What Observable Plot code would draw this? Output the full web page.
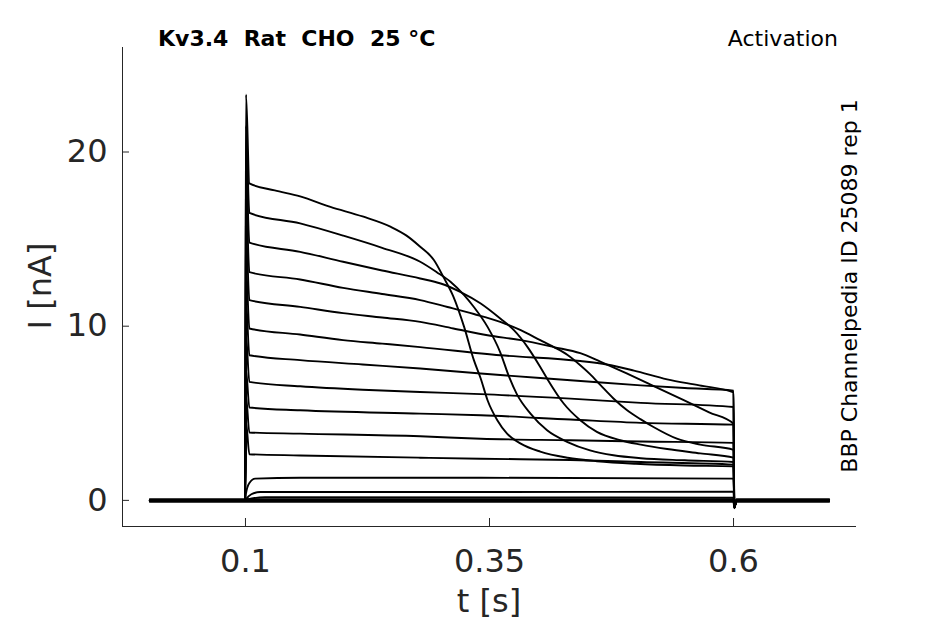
<!DOCTYPE html>
<html><head><meta charset="utf-8">
<script src="https://cdn.jsdelivr.net/npm/d3@7"></script>
<script src="https://cdn.jsdelivr.net/npm/@observablehq/plot@0.6"></script>
<style>html,body{margin:0;padding:0;background:#fff;}</style>
</head><body><div id="chart"></div>
<script>
// ---- data ----
const xDomain = [-0.026, 0.726];
const yDomain = [-1.5, 26];
const xTicks = [0.1, 0.35, 0.6];
const yTicks = [0, 10, 20];

const holdBefore = [[0.002, 0], [0.0998, 0]];
const holdAfter = [[0.6008, -0.4], [0.603, 0], [0.698, 0]];

const sweep01 = [[0.1005,23.3],[0.104,18.2],[0.13,17.8],[0.156,17.45],[0.187,16.85],[0.22,16.3],[0.249,15.7],[0.265,15.2],[0.279,14.56],[0.293,13.8],[0.303,12.8],[0.313,11.7],[0.324,9.96],[0.334,8.05],[0.341,7.0],[0.348,5.75],[0.358,4.6],[0.368,3.83],[0.382,3.26],[0.402,2.8],[0.43,2.45],[0.46,2.25],[0.5,2.1],[0.55,2.0],[0.6,1.95]];
const sweep02 = [[0.1005,21.5],[0.104,16.5],[0.156,15.9],[0.2,15.2],[0.24,14.5],[0.279,13.7],[0.296,13.1],[0.31,12.55],[0.324,11.78],[0.334,11.1],[0.348,9.96],[0.361,8.5],[0.37,7.1],[0.378,6.1],[0.392,4.98],[0.409,4.02],[0.43,3.35],[0.453,2.87],[0.477,2.59],[0.505,2.42],[0.55,2.3],[0.6,2.2]];
const sweep03 = [[0.1005,19.5],[0.104,14.8],[0.156,14.27],[0.2,13.7],[0.24,13.2],[0.279,12.74],[0.3,12.45],[0.32,11.97],[0.341,11.3],[0.361,10.44],[0.375,9.77],[0.389,8.8],[0.402,7.66],[0.41,6.9],[0.426,5.56],[0.443,4.6],[0.46,3.93],[0.484,3.45],[0.505,3.2],[0.532,2.95],[0.566,2.7],[0.6,2.45]];
const sweep04 = [[0.1005,17.5],[0.104,13.1],[0.156,12.68],[0.2,12.2],[0.24,11.85],[0.279,11.5],[0.307,11.1],[0.334,10.7],[0.361,10.25],[0.382,9.77],[0.402,9.2],[0.416,8.8],[0.43,8.35],[0.443,7.76],[0.453,7.25],[0.464,6.6],[0.477,5.85],[0.491,5.17],[0.505,4.65],[0.518,4.21],[0.542,3.54],[0.566,3.2],[0.6,2.9]];
const sweep05 = [[0.1005,15.5],[0.104,11.5],[0.156,11.11],[0.2,10.75],[0.24,10.5],[0.279,10.25],[0.313,9.87],[0.348,9.48],[0.382,9.2],[0.416,8.8],[0.443,8.45],[0.464,7.95],[0.49,7.3],[0.515,6.65],[0.549,5.75],[0.575,5.05],[0.6,4.4]];
const sweep06 = [[0.1005,13.5],[0.104,9.87],[0.156,9.52],[0.2,9.2],[0.24,9.0],[0.279,8.8],[0.361,8.33],[0.443,8.0],[0.47,7.8],[0.498,7.45],[0.532,6.95],[0.565,6.6],[0.6,6.2]];
const sweep07 = [[0.1005,11.5],[0.104,8.33],[0.156,8.05],[0.22,7.8],[0.279,7.57],[0.341,7.28],[0.433,6.9],[0.505,6.6],[0.55,6.45],[0.6,6.3]];
const sweep08 = [[0.1005,9.5],[0.104,6.8],[0.156,6.55],[0.22,6.35],[0.279,6.22],[0.341,6.1],[0.433,5.84],[0.505,5.6],[0.6,5.36]];
const sweep09 = [[0.1005,7.5],[0.104,5.33],[0.156,5.17],[0.279,4.98],[0.341,4.89],[0.433,4.64],[0.505,4.45],[0.6,4.35]];
const sweep10 = [[0.1005,6.0],[0.104,3.9],[0.156,3.83],[0.279,3.68],[0.341,3.54],[0.433,3.45],[0.505,3.38],[0.6,3.3]];
const sweep11 = [[0.1005,4.5],[0.104,2.65],[0.156,2.58],[0.279,2.45],[0.341,2.39],[0.433,2.32],[0.505,2.2],[0.6,2.05]];
const sweep12 = [[0.1005,0.4],[0.104,1.0],[0.11,1.25],[0.156,1.3],[0.341,1.3],[0.6,1.25]];
const sweep13 = [[0.101,0.1],[0.106,0.35],[0.115,0.48],[0.341,0.48],[0.6,0.5]];
const sweep14 = [[0.102,0.05],[0.12,0.18],[0.6,0.15]];
const sweep15 = [[0.6,0]];
// near-zero sweeps that thicken the baseline (full time course)
const sweep16 = [[0.002,-0.08],[0.6,-0.08],[0.6008,-0.45],[0.603,-0.08],[0.698,-0.08]];
const sweep17 = [[0.002,0.07],[0.6,0.07],[0.6008,-0.3],[0.603,0.07],[0.698,0.07]];

const pulsedSweeps = [sweep01,sweep02,sweep03,sweep04,sweep05,sweep06,sweep07,sweep08,sweep09,sweep10,sweep11,sweep12,sweep13,sweep14,sweep15];
const flatSweeps = [sweep16, sweep17];

const titleText = "Kv3.4  Rat  CHO  25 °C";
const protocolText = "Activation";
const sideText = "BBP Channelpedia ID 25089 rep 1";
const xLabel = "t [s]";
const yLabel = "I [nA]";

// ---- table ----
const rows = [];
pulsedSweeps.forEach((s, k) => {
  [...holdBefore, ...s, ...holdAfter].forEach(([t, i]) => rows.push({sweep: k, t, i}));
});
flatSweeps.forEach((s, k) => {
  s.forEach(([t, i]) => rows.push({sweep: 100 + k, t, i}));
});

const W = 945, H = 624, mL = 122, mR = 89, mT = 47, mB = 98;
const frameW = W - mL - mR, frameH = H - mT - mB;
const axisColor = "#262626";

const plot = Plot.plot({
  width: W, height: H,
  marginLeft: mL, marginRight: mR, marginTop: mT, marginBottom: mB,
  style: {fontFamily: "DejaVu Sans", fontSize: "32px", color: "#262626", background: "#fff"},
  x: {domain: xDomain},
  y: {domain: yDomain},
  marks: [
    Plot.ruleX([xDomain[0]], {stroke: axisColor, strokeWidth: 1}),
    Plot.ruleY([yDomain[0]], {stroke: axisColor, strokeWidth: 1}),
    Plot.tickX(xTicks, {x: d => d, insetTop: frameH - 8, stroke: axisColor}),
    Plot.tickY(yTicks, {y: d => d, insetRight: frameW - 7, stroke: axisColor}),
    Plot.axisX(xTicks, {tickSize: 0, tickPadding: 23, tickFormat: d => String(d), label: null}),
    Plot.axisY(yTicks, {tickSize: 0, tickPadding: 15, label: null}),
    Plot.line(rows, {x: "t", y: "i", z: "sweep", stroke: "#000", strokeWidth: 1.9, curve: "monotone-x"})
  ]
});

document.getElementById("chart").appendChild(plot);
const svg = d3.select(plot);

svg.append("text").attr("x", 158).attr("y", 46).attr("text-anchor", "start")
  .attr("xml:space", "preserve").style("white-space", "pre")
  .attr("font-family", "DejaVu Sans").attr("font-weight", "bold").attr("font-size", 22)
  .attr("fill", "#000").text(titleText);

svg.append("text").attr("x", 838).attr("y", 46).attr("text-anchor", "end")
  .attr("font-family", "DejaVu Sans").attr("font-size", 22)
  .attr("fill", "#000").text(protocolText);

svg.append("text").attr("transform", "translate(857,286) rotate(-90)").attr("text-anchor", "middle")
  .attr("font-family", "DejaVu Sans").attr("font-size", 22)
  .attr("fill", "#000").text(sideText);

svg.append("text").attr("x", 489).attr("y", 612).attr("text-anchor", "middle")
  .attr("font-family", "DejaVu Sans").attr("font-size", 32)
  .attr("fill", "#262626").text(xLabel);

svg.append("text").attr("transform", "translate(51,286) rotate(-90)").attr("text-anchor", "middle")
  .attr("font-family", "DejaVu Sans").attr("font-size", 32)
  .attr("fill", "#262626").text(yLabel);
</script>
</body></html>
